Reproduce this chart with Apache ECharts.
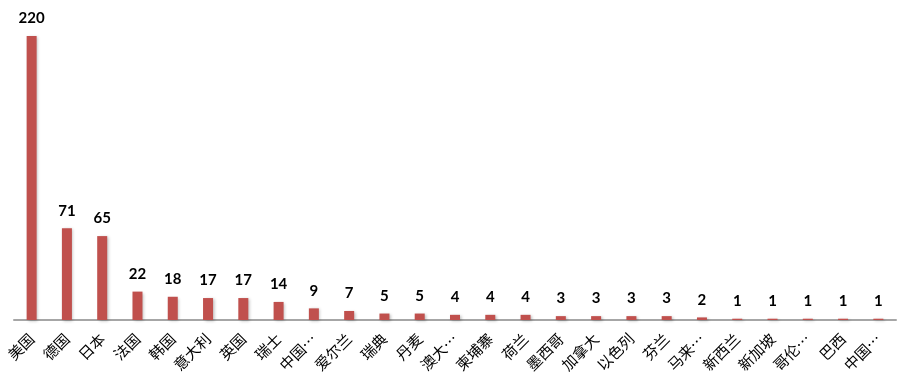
<!DOCTYPE html>
<html><head><meta charset="utf-8">
<script src="https://cdn.jsdelivr.net/npm/echarts@6/dist/echarts.min.js"></script>
<style>html,body{margin:0;padding:0;background:#fff}#c{width:900px;height:387px}</style>
</head><body><div id="c"></div>
<script>
const categories = ["美国","德国","日本","法国","韩国","意大利","英国","瑞士","中国…","爱尔兰","瑞典","丹麦","澳大…","柬埔寨","荷兰","墨西哥","加拿大","以色列","芬兰","马来…","新西兰","新加坡","哥伦…","巴西","中国…"];
const values = [220,71,65,22,18,17,17,14,9,7,5,5,4,4,4,3,3,3,3,2,1,1,1,1,1];

const chart = echarts.init(document.getElementById('c'), null, {renderer:'canvas'});
chart.setOption({
  animation:false,
  backgroundColor:'#fff',
  grid:{left:14, right:4, top:36, bottom:67, containLabel:false},
  xAxis:{
    type:'category', data:categories,
    axisLine:{lineStyle:{color:'#a6a6a6', width:2}},
    axisTick:{show:false},
    axisLabel:{rotate:45, interval:0, color:'#000', fontSize:15, margin:16,
      fontFamily:'"Noto Sans CJK SC", sans-serif'}
  },
  yAxis:{type:'value', min:0, max:220, show:false, splitLine:{show:false}},
  series:[{
    type:'bar', data:values, barWidth:10,
    itemStyle:{color:'#c0504d', shadowColor:'rgba(0,0,0,0.25)', shadowBlur:3, shadowOffsetX:1.5, shadowOffsetY:1},
    label:{show:true, position:'top', distance:10, color:'#000', fontWeight:'bold', fontSize:15,
      fontFamily:'Lato, "Open Sans", sans-serif'}
  }]
});
</script></body></html>
